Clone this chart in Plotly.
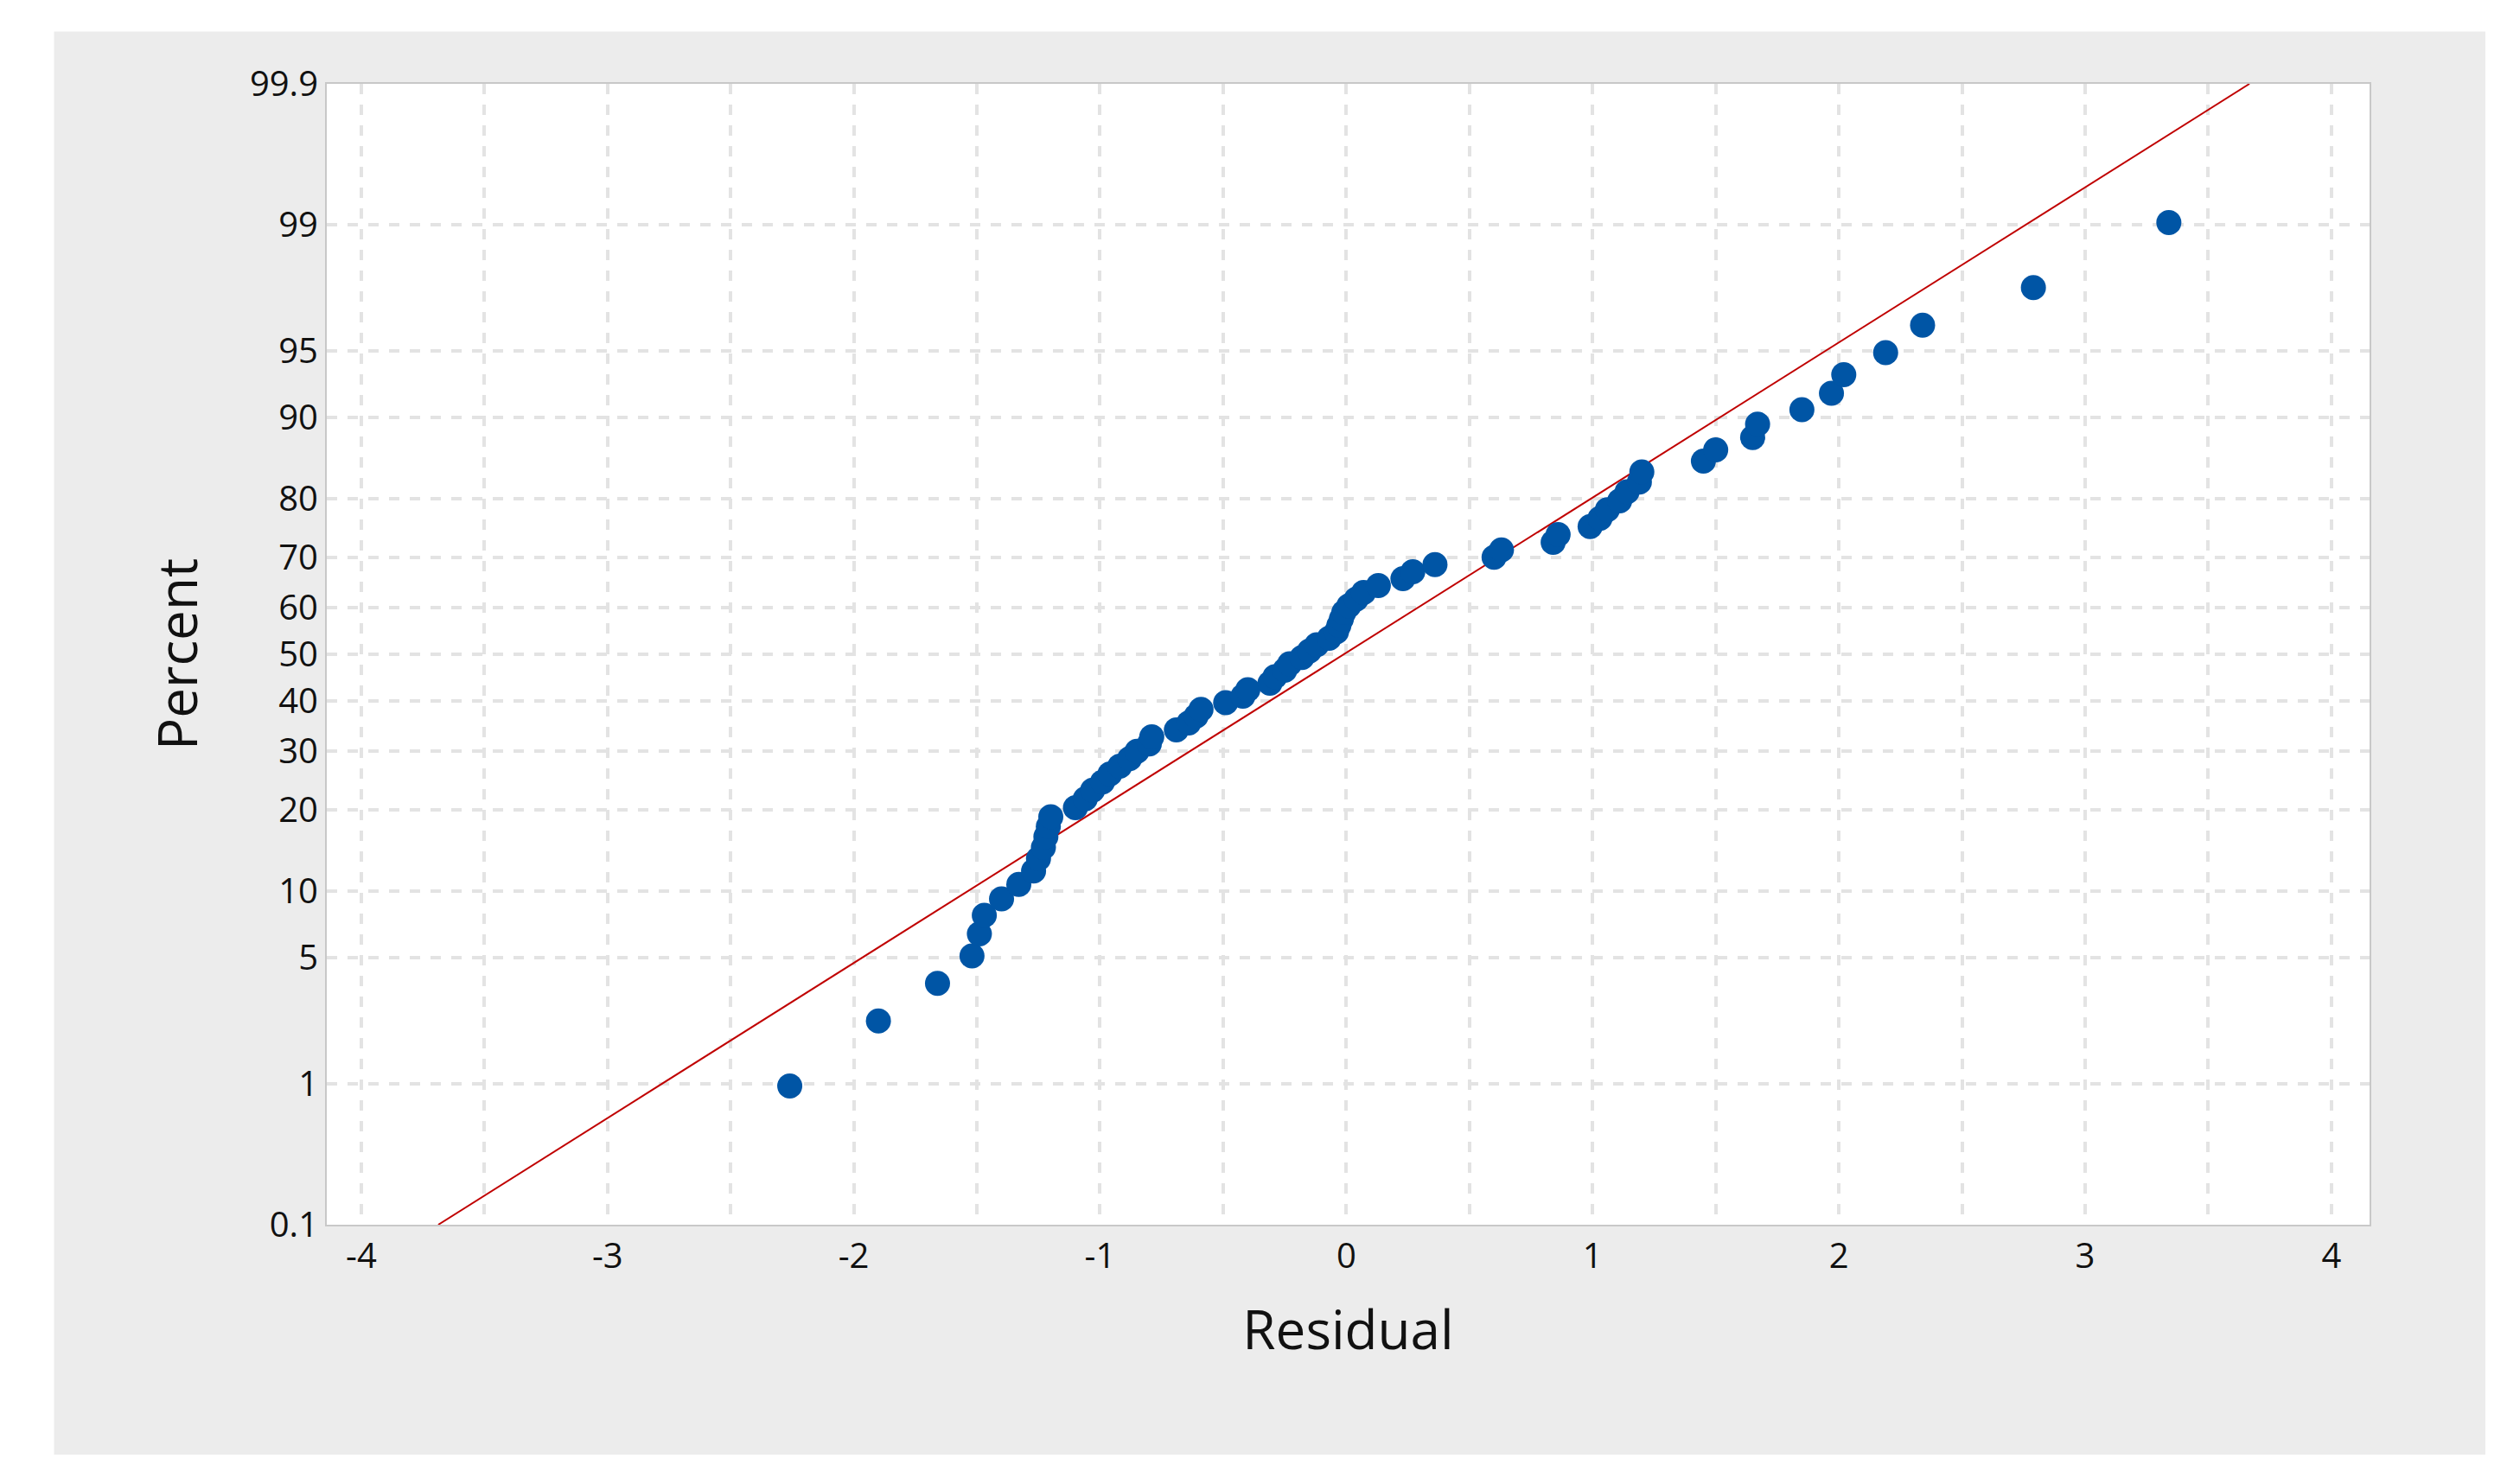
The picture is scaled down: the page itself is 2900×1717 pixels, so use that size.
import numpy as np
import plotly.graph_objects as go

residuals = [-2.26, -1.90, -1.66, -1.52, -1.49, -1.47, -1.40, -1.33, -1.27, -1.25,
             -1.23, -1.22, -1.21, -1.20, -1.10, -1.06, -1.03, -0.99, -0.96, -0.92,
             -0.88, -0.85, -0.80, -0.79, -0.69, -0.64, -0.61, -0.59, -0.49, -0.42,
             -0.40, -0.31, -0.29, -0.25, -0.23, -0.18, -0.15, -0.12, -0.07, -0.04,
             -0.03, -0.02, -0.01, 0.01, 0.04, 0.07, 0.13, 0.23, 0.27, 0.36,
             0.60, 0.63, 0.84, 0.86, 0.99, 1.03, 1.06, 1.11, 1.14, 1.19,
             1.20, 1.45, 1.50, 1.65, 1.67, 1.85, 1.97, 2.02, 2.19, 2.34,
             2.79, 3.34]
fit_mean = -0.01
fit_sd = 1.19
y_tick_labels = ["0.1", "1", "5", "10", "20", "30", "40", "50", "60", "70", "80", "90", "95", "99", "99.9"]
x_ticks = [-4, -3, -2, -1, 0, 1, 2, 3, 4]


def norm_ppf(p):
    p = np.asarray(p, dtype=float)
    a = [-3.969683028665376e+01, 2.209460984245205e+02, -2.759285104469687e+02,
         1.383577518672690e+02, -3.066479806614716e+01, 2.506628277459239e+00]
    b = [-5.447609879822406e+01, 1.615858368580409e+02, -1.556989798598866e+02,
         6.680131188771972e+01, -1.328068155288572e+01]
    c = [-7.784894002430293e-03, -3.223964580411365e-01, -2.400758277161838e+00,
         -2.549732539343734e+00, 4.374664141464968e+00, 2.938163982698783e+00]
    d = [7.784695709041462e-03, 3.224671290700398e-01, 2.445134137142996e+00,
         3.754408661907416e+00]
    out = np.empty_like(p)
    lo = p < 0.02425
    hi = p > 1 - 0.02425
    mid = ~(lo | hi)
    q = np.sqrt(-2 * np.log(p[lo]))
    out[lo] = (((((c[0]*q+c[1])*q+c[2])*q+c[3])*q+c[4])*q+c[5]) / ((((d[0]*q+d[1])*q+d[2])*q+d[3])*q+1)
    q = np.sqrt(-2 * np.log(1 - p[hi]))
    out[hi] = -(((((c[0]*q+c[1])*q+c[2])*q+c[3])*q+c[4])*q+c[5]) / ((((d[0]*q+d[1])*q+d[2])*q+d[3])*q+1)
    q = p[mid] - 0.5
    r = q * q
    out[mid] = (((((a[0]*r+a[1])*r+a[2])*r+a[3])*r+a[4])*r+a[5])*q / (((((b[0]*r+b[1])*r+b[2])*r+b[3])*r+b[4])*r+1)
    return out


x = np.sort(np.array(residuals))
n = len(x)
pct = (np.arange(1, n + 1) - 0.3) / (n + 0.4)
yz = norm_ppf(pct)

tickvals = norm_ppf(np.array([float(t) / 100 for t in y_tick_labels]))
zlo, zhi = tickvals[0], tickvals[-1]
line_x = [fit_mean + zlo * fit_sd, fit_mean + zhi * fit_sd]
line_y = [zlo, zhi]

fig = go.Figure()
fig.add_trace(go.Scatter(x=line_x, y=line_y, mode="lines",
                         line=dict(color="#c00000", width=2), hoverinfo="skip"))
fig.add_trace(go.Scatter(x=x, y=yz, mode="markers",
                         marker=dict(color="#0055a5", size=29)))

grid = dict(gridcolor="#e3e3e3", gridwidth=4, griddash="dash")
fig.update_layout(
    width=2900, height=1717,
    margin=dict(l=370, r=167, t=89, b=308),
    paper_bgcolor="white", plot_bgcolor="white",
    showlegend=False,
    font=dict(family="Open Sans", color="#111111"),
    shapes=[
        dict(type="rect", xref="paper", yref="paper", x0=-0.1335, x1=1.0567,
             y0=-0.2015, y1=1.0459, fillcolor="#ececec", line_width=0, layer="below"),
        dict(type="rect", xref="paper", yref="paper", x0=0, x1=1, y0=0, y1=1,
             fillcolor="white", line_width=0, layer="below"),
    ],
    xaxis=dict(range=[-4.14, 4.155], tickvals=x_ticks, ticktext=[str(v) for v in x_ticks],
               tickfont=dict(size=40), zeroline=False, showline=True, mirror=True,
               linecolor="#c8c8c8", linewidth=2, ticks="", ticklen=0,
               title=dict(text="Residual", font=dict(size=62), standoff=40),
               minor=dict(dtick=0.5, tick0=-4, showgrid=True, gridcolor="#e3e3e3",
                          gridwidth=4, griddash="dash"), **grid),
    yaxis=dict(range=[zlo, zhi], tickvals=tickvals, ticktext=y_tick_labels,
               tickfont=dict(size=40), zeroline=False, showline=True, mirror=True,
               linecolor="#c8c8c8", linewidth=2, ticks="",
               title=dict(text="Percent", font=dict(size=62), standoff=40), **grid),
)
fig.write_html("out.html")
